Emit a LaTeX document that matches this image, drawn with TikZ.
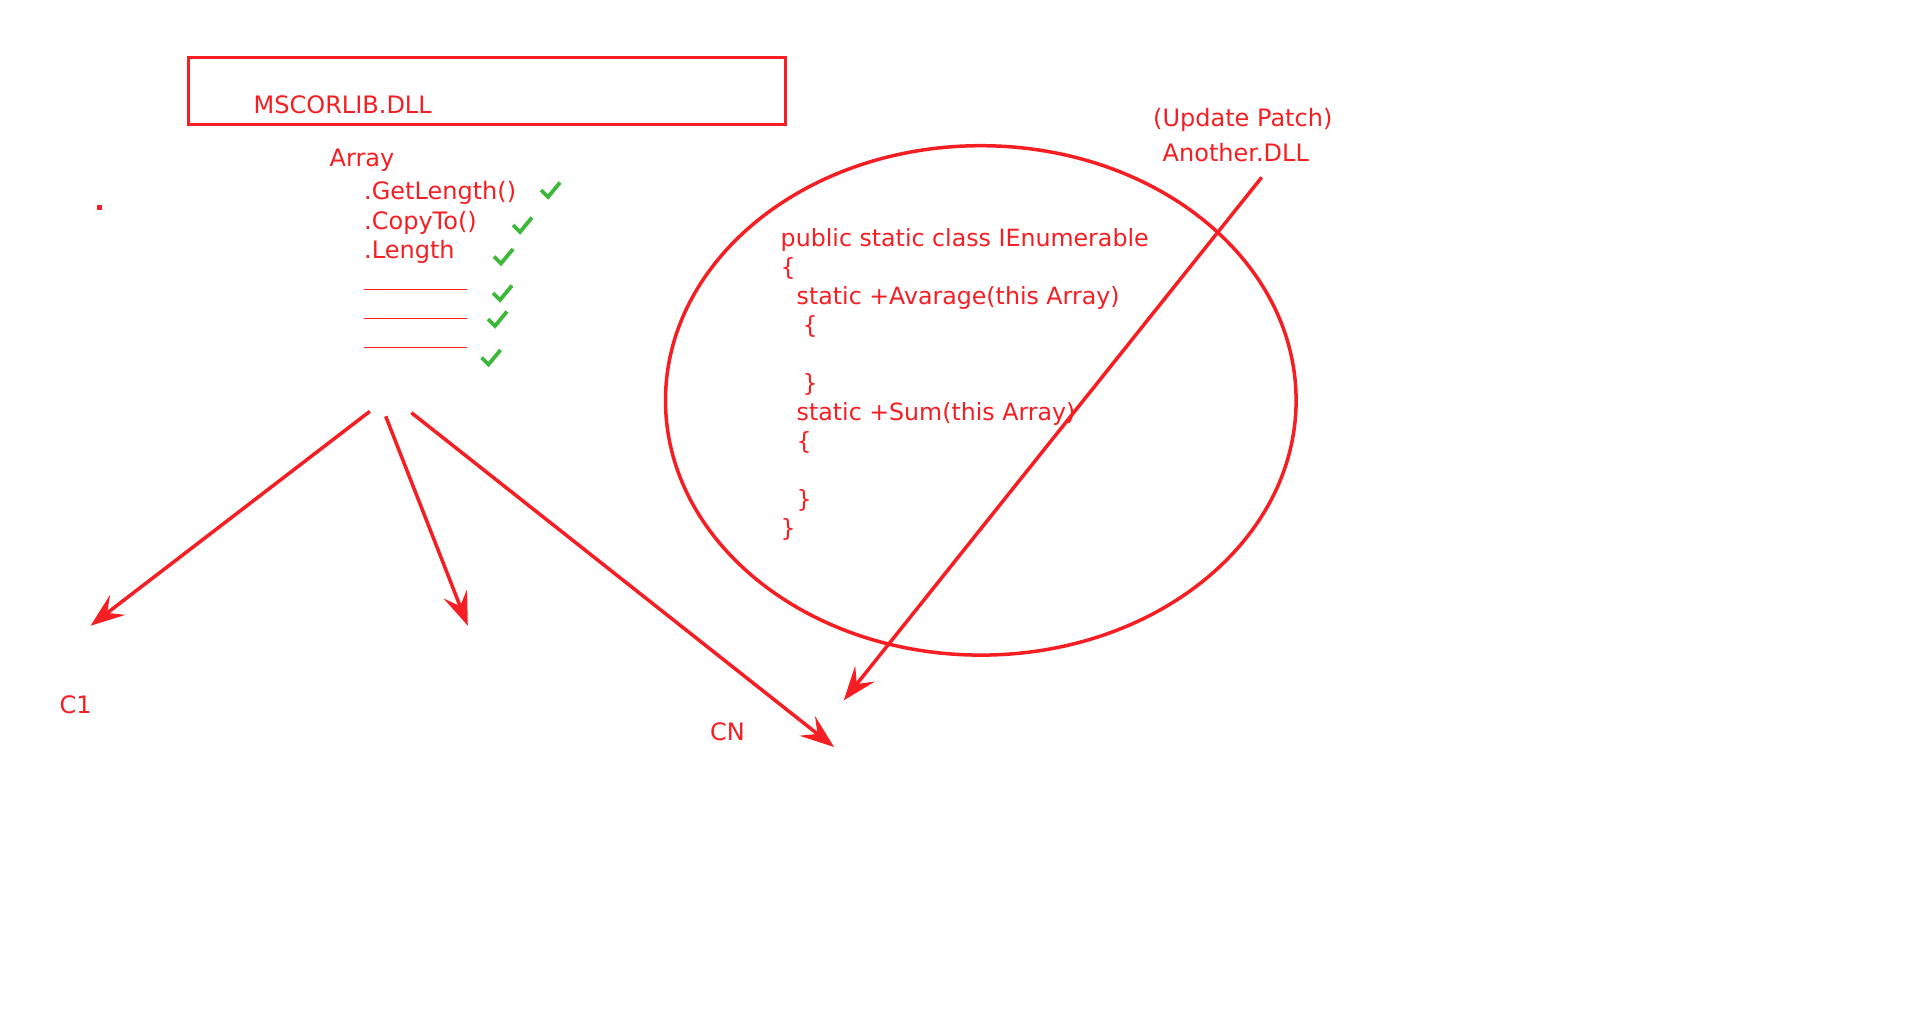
\documentclass[tikz,border=0pt]{standalone}
\usepackage{fontspec}
\setmainfont{DejaVu Sans}
\usetikzlibrary{arrows.meta, shapes.geometric}
\definecolor{penred}{HTML}{F41E23}
\definecolor{tickgreen}{HTML}{3DB83A}

\begin{document}
\begin{tikzpicture}[x=1pt, y=-1pt,
    lbl/.style={anchor=base west, inner sep=0pt, text=penred, font=\fontsize{24}{29}\selectfont},
    redline/.style={draw=penred, line width=3.5pt},
    callarrow/.style={redline, -{Stealth[length=34pt, width=25pt, inset=13pt]}},
    tick/.style={draw=tickgreen, line width=3.8pt}]
  \useasboundingbox (0,0) rectangle (1920,1017);

  % Caja de la DLL
  \node[draw=penred, line width=3.7pt, minimum width=597pt, minimum height=67pt, inner sep=0pt, outer sep=0pt, anchor=north west] (dllbox) at (188.6,57.6) {};
  \node[lbl] (dllname) at (253.5,113.5) {MSCORLIB.DLL};
  \fill[penred] (96.5,205) rectangle (101.5,210);

  % Miembros de Array
  \node[lbl] (array) at (329.5,166) {Array};
  \node[lbl] (getlength) at (364,199.3) {.GetLength()};
  \node[lbl] (copyto) at (364,229) {.CopyTo()};
  \node[lbl] (length) at (364,258.3) {.Length};
  \foreach \y in {289.3, 318.3, 347.3}
    \draw[penred, line width=1.3pt] (363.5,\y) -- (467,\y);
  \foreach \x/\y in {548/197, 520/232, 501/263.5, 500/300, 495/326, 488.5/364.5}
    \draw[tick] (\x-7,\y-7) -- (\x,\y) -- (\x+12,\y-14.5);

  % Clientes
  \coordinate (src1) at (369.8,411.4);
  \coordinate (src2) at (385.7,416.3);
  \coordinate (src3) at (411.4,412.7);
  \coordinate (c1tip) at (90.6,625.7);
  \coordinate (c2tip) at (467.8,625.7);
  \coordinate (cntip) at (834,747);
  \draw[callarrow] (src1) -- (c1tip);
  \draw[callarrow] (src2) -- (c2tip);
  \draw[callarrow] (src3) -- (cntip);
  \node[lbl] (c1) at (59.3,713.3) {C1};
  \node[lbl] (cn) at (710,740.7) {CN};

  % Clase de extension
  \node[draw=penred, line width=3.5pt, ellipse, minimum width=630.6pt, minimum height=509.4pt, inner sep=0pt, outer sep=0pt] (extcls) at (980.8,400.4) {};
  \foreach \dx/\yb/\txt [count=\i] in {0/246/public static class IEnumerable, 0/275/\{, 16/304/static +Avarage(this Array), 22/333/\{, 22/391/\}, 16/420/static +Sum(this Array), 16/449/\{, 16/507/\}, 0/536/\}}
    \node[lbl, font=\fontsize{23.7}{29}\selectfont] (code\i) at (780.5+\dx,\yb) {\txt};

  % Parche
  \node[lbl] (patch) at (1153,126.7) {(Update Patch)};
  \node[lbl] (another) at (1162.5,161.7) {Another.DLL};
  \coordinate (patchsrc) at (1261.7,177.3);
  \coordinate (patchtip) at (843.7,700.4);
  \draw[callarrow] (patchsrc) -- (patchtip);
\end{tikzpicture}
\end{document}
